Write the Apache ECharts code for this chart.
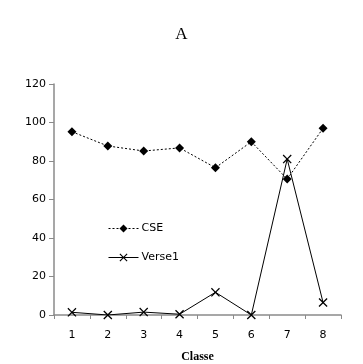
<!DOCTYPE html>
<html><head><meta charset="utf-8">
<script src="https://cdn.jsdelivr.net/npm/echarts@6/dist/echarts.min.js"></script>
<style>html,body{margin:0;padding:0;background:#fff}#c{width:363px;height:364px}</style>
</head><body><div id="c"></div>
<script>
const categories = ['1','2','3','4','5','6','7','8'];
const cseValues = [95.2, 87.8, 85.2, 86.8, 76.5, 90, 70.6, 97];
const verseValues = [1.4, 0, 1.5, 0.4, 11.8, 0, 81, 6.5];
const yTicks = [0, 20, 40, 60, 80, 100, 120];

const crossPath = 'path://M0,1L1,0L5,4L9,0L10,1L6,5L10,9L9,10L5,6L1,10L0,9L4,5Z';
const axisGray = '#8a8a8a';

const chart = echarts.init(document.getElementById('c'), null, {renderer: 'canvas'});
chart.setOption({
  animation: false,
  backgroundColor: '#fff',
  title: {
    text: 'A', left: 'center', top: 21,
    textStyle: {fontFamily: 'Liberation Serif', fontSize: 17, fontWeight: 'normal', color: '#000'}
  },
  legend: {
    orient: 'vertical', left: 103, top: 218, itemGap: 18, itemWidth: 30, itemHeight: 10,
    lineStyle: {width: 1},
    textStyle: {fontFamily: 'DejaVu Sans', fontSize: 11, color: '#000', padding: [0,0,0,-2]},
    data: ['CSE', 'Verse1']
  },
  grid: {left: 54, right: 22, top: 84, bottom: 49, containLabel: false, outerBoundsMode: 'none'},
  xAxis: {
    type: 'category', data: categories, boundaryGap: true,
    name: 'Classe', nameLocation: 'middle', nameGap: 36,
    nameTextStyle: {fontFamily: 'Liberation Serif', fontWeight: 'bold', fontSize: 12, color: '#000'},
    axisLine: {lineStyle: {color: axisGray, width: 1.5}},
    axisTick: {show: true, inside: false, length: 4, lineStyle: {color: axisGray}},
    axisLabel: {fontFamily: 'DejaVu Sans', fontSize: 11, color: '#000', margin: 15},
    splitLine: {show: false}
  },
  yAxis: {
    type: 'value', min: yTicks[0], max: yTicks[yTicks.length-1], interval: 20,
    axisLine: {show: true, lineStyle: {color: axisGray, width: 1.5}},
    axisTick: {show: true, inside: false, length: 5, lineStyle: {color: axisGray}},
    axisLabel: {fontFamily: 'DejaVu Sans', fontSize: 11, color: '#000', margin: 8},
    splitLine: {show: false}
  },
  series: [
    {
      name: 'CSE', type: 'line', data: cseValues,
      symbol: 'diamond', symbolSize: 9,
      itemStyle: {color: '#000'},
      lineStyle: {color: '#000', width: 1, type: [2, 2]}
    },
    {
      name: 'Verse1', type: 'line', data: verseValues,
      symbol: crossPath, symbolSize: 9,
      itemStyle: {color: '#000'},
      lineStyle: {color: '#000', width: 1, type: 'solid'}
    }
  ]
});
</script>
</body></html>
